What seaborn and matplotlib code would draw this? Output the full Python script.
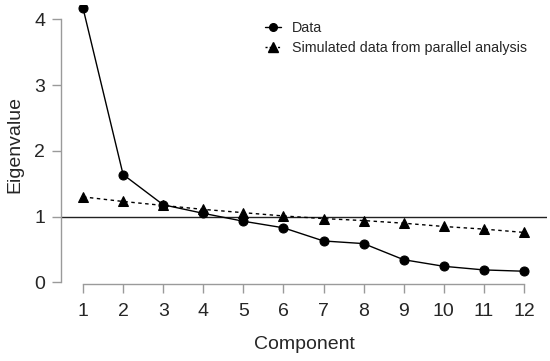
import matplotlib
matplotlib.use("Agg")
import matplotlib.pyplot as plt
import seaborn as sns
from matplotlib.lines import Line2D

# values
components = list(range(1, 13))
data_eig = [4.17, 1.64, 1.18, 1.05, 0.93, 0.83, 0.63, 0.59, 0.345, 0.245, 0.19, 0.17]
sim_eig = [1.30, 1.23, 1.17, 1.11, 1.06, 1.01, 0.97, 0.94, 0.90, 0.85, 0.81, 0.76]
y_ticks = [0, 1, 2, 3, 4]

sns.set_style("white")
plt.rcParams["font.family"] = ["Liberation Sans", "DejaVu Sans"]

fig = plt.figure(figsize=(5.5, 3.61), dpi=100)
ax = fig.add_axes([61 / 550, 77 / 361, 486 / 550, 279 / 361])

# reference line at eigenvalue = 1
ax.axhline(1, color="#222222", lw=1.0, zorder=1)

sns.lineplot(x=components, y=data_eig, ax=ax, color="black", lw=1.0,
             marker="o", markersize=6.5, markeredgecolor="black")
sns.lineplot(x=components, y=sim_eig, ax=ax, color="black", lw=1.0,
             linestyle=(0, (2.5, 2.5)), marker="^", markersize=7.5,
             markeredgecolor="black")

ax.set_xlim(0.4514, 12.574)
ax.set_ylim(-0.024, 4.216)
ax.set_xticks(components)
ax.set_yticks(y_ticks)

# R-like axes: no box, axis lines only between first and last ticks
for side in ["top", "right"]:
    ax.spines[side].set_visible(False)
for side in ["left", "bottom"]:
    ax.spines[side].set_color("#9a9a9a")
    ax.spines[side].set_linewidth(1.0)
ax.spines["left"].set_bounds(0, 4)
ax.spines["bottom"].set_bounds(1, 12)
ax.tick_params(axis="both", direction="out", length=6.5, width=1.0,
               color="#9a9a9a", labelsize=14, left=True, bottom=True)
ax.tick_params(axis="x", pad=7)
ax.tick_params(axis="y", pad=5)
ax.grid(False)

ax.set_xlabel("Component", fontsize=14, labelpad=12)
ax.set_ylabel("Eigenvalue", fontsize=14, labelpad=8)

handles = [
    Line2D([], [], color="black", lw=1.0, marker="o", markersize=5.5),
    Line2D([], [], color="black", lw=1.0, linestyle=(0, (1.5, 1.5)),
           marker="^", markersize=6.5),
]
ax.legend(handles, ["Data", "Simulated data from parallel analysis"],
          loc="upper left", bbox_to_anchor=(265 / 550, (361 - 21) / 361),
          bbox_transform=fig.transFigure, frameon=False, fontsize=10.3,
          handlelength=1.15, handletextpad=0.75, labelspacing=0.45,
          borderaxespad=0, borderpad=0)

fig.savefig("out.png", dpi=100)
